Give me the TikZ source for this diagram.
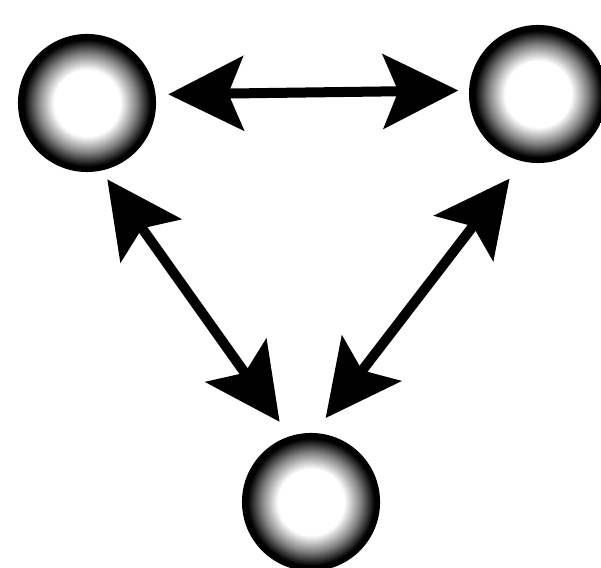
\documentclass[tikz,border=0pt]{standalone}
\usepackage{tikz}
\usetikzlibrary{arrows.meta, shapes.geometric}
\pgfdeclareradialshading{ballshade}{\pgfpoint{0bp}{0bp}}{%
  color(0bp)=(white); color(12bp)=(white); color(18bp)=(black!50);
  color(23bp)=(black); color(50bp)=(black)}
\tikzset{
  ballnode/.style={
    circle, inner sep=0pt, minimum size=1.38cm, shading=ballshade
  },
  bidirline/.style={
    draw=black, line width=0.1cm,
    {Stealth[length=0.75cm, width=0.74cm, inset=0.15cm]}-{Stealth[length=0.75cm, width=0.74cm, inset=0.15cm]}
  }
}
\begin{document}
\begin{tikzpicture}[x=0.01cm, y=-0.01cm]
  \useasboundingbox (0,0) rectangle (601,568);

  % Balls
  \node[ballnode] (leftball) at (87,103) {};
  \node[ballnode] (rightball) at (538,94) {};
  \node[ballnode] (bottomball) at (311,502) {};

  % Flows
  \draw[bidirline, shorten <=0.12cm, shorten >=0.10cm] (leftball.7) -- (rightball.177);
  \draw[bidirline, shorten <=0.10cm, shorten >=0.17cm] (leftball.-78) -- (bottomball.108);
  \draw[bidirline, shorten <=0.21cm, shorten >=0.18cm] (rightball.-103) -- (bottomball.87);

\end{tikzpicture}
\end{document}
